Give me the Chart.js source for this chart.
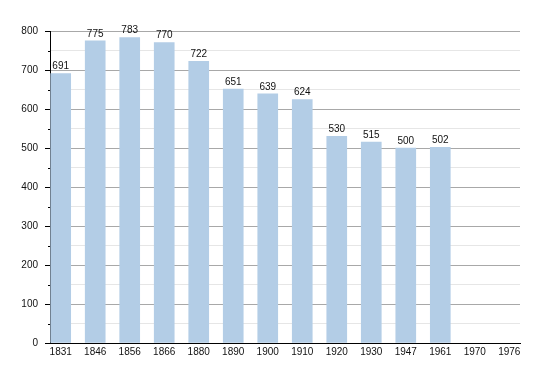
<!DOCTYPE html>
<html lang="en">
<head>
  <meta charset="UTF-8">
  <title>Population</title>
  <script src="https://cdn.jsdelivr.net/npm/chart.js"></script>
  <style>
    html, body { margin: 0; padding: 0; background: #fff; }
    .chart-container { width: 550px; height: 373px; }
  </style>
</head>
<body>
  <div class="chart-container">
    <canvas id="popChart" width="550" height="373"></canvas>
  </div>
  <script>
    // Census years and population counts
    const years = ['1831', '1846', '1856', '1866', '1880', '1890', '1900', '1910', '1920', '1930', '1947', '1961', '1970', '1976'];
    const population = [691, 775, 783, 770, 722, 651, 639, 624, 530, 515, 500, 502, null, null];
    const yTicks = [0, 100, 200, 300, 400, 500, 600, 700, 800];

    const font = { family: 'Liberation Sans, Arial, sans-serif', size: 10 };

    // value labels above bars + short minor tick marks on the y axis
    const extras = {
      id: 'extras',
      afterDatasetsDraw(chart) {
        const ctx = chart.ctx;
        const meta = chart.getDatasetMeta(0);
        ctx.save();
        ctx.font = '10px ' + font.family;
        ctx.fillStyle = '#111';
        ctx.textAlign = 'center';
        ctx.textBaseline = 'bottom';
        meta.data.forEach((bar, i) => {
          const v = population[i];
          if (v == null) return;
          ctx.fillText(String(v), bar.x, bar.y - 2);
        });
        const y = chart.scales.y;
        ctx.strokeStyle = '#000';
        ctx.lineWidth = 1;
        for (let v = 50; v < 800; v += 100) {
          const py = Math.round(y.getPixelForValue(v)) + 0.5;
          ctx.beginPath();
          ctx.moveTo(y.right - 2, py);
          ctx.lineTo(y.right, py);
          ctx.stroke();
        }
        ctx.restore();
      }
    };

    new Chart(document.getElementById('popChart'), {
      type: 'bar',
      data: {
        datasets: [{
          data: population.map((v, i) => ({ x: i, y: v })),
          backgroundColor: '#b3cde6',
          barThickness: 20
        }]
      },
      options: {
        responsive: false,
        animation: false,
        events: [],
        layout: { padding: { top: 31, right: 30, bottom: 8, left: 0 } },
        plugins: { legend: { display: false }, tooltip: { enabled: false } },
        scales: {
          x: {
            type: 'linear',
            offset: false,
            min: -0.31,
            max: 13.31,
            afterBuildTicks(scale) {
              scale.ticks = years.map((_, i) => ({ value: i }));
            },
            afterFit(scale) { scale.height = 22; },
            ticks: {
              autoSkip: false,
              maxRotation: 0,
              padding: 3,
              color: '#111',
              font: font,
              callback: (v) => years[v]
            },
            grid: { display: false, drawTicks: false },
            border: { color: '#000', width: 1 }
          },
          y: {
            min: 0,
            max: 800,
            afterBuildTicks(scale) {
              const t = [];
              for (let v = 0; v <= 800; v += 50) t.push({ value: v });
              scale.ticks = t;
            },
            afterFit(scale) { scale.width = 50; },
            ticks: {
              padding: 7,
              color: '#111',
              font: font,
              callback: (v) => (yTicks.includes(v) ? String(v) : '')
            },
            grid: {
              color: (c) => (c.tick && c.tick.value % 100 === 0 ? '#a8a8a8' : '#e6e6e6'),
              tickColor: (c) => (c.tick && c.tick.value % 100 === 0 ? '#000' : 'rgba(0,0,0,0)'),
              tickLength: 5
            },
            border: { color: '#000', width: 1 }
          }
        }
      },
      plugins: [extras]
    });
  </script>
</body>
</html>
